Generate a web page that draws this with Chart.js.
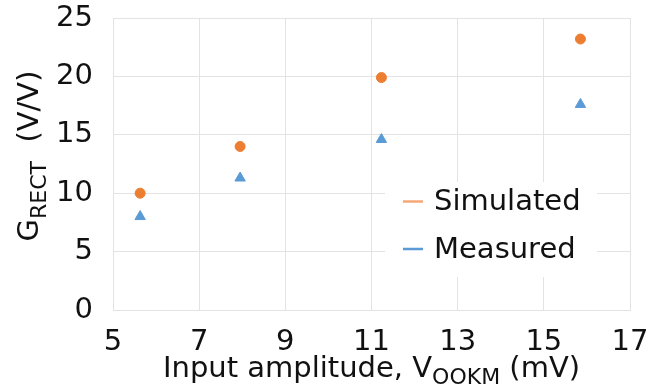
<!DOCTYPE html>
<html>
<head>
<meta charset="utf-8">
<script src="https://cdn.jsdelivr.net/npm/chart.js@4"></script>
<style>
  body { margin: 0; background: #fff; }
  canvas { display: block; }
</style>
</head>
<body>
<canvas id="graph" width="672" height="385"></canvas>
<script>
// input amplitude (mV)
const amplitude = [5.63, 7.95, 11.23, 15.85];
const simulated = [10.0, 14.0, 19.9, 23.2];
const measured = [8.0, 11.3, 14.6, 17.6];
const xTicks = [5, 7, 9, 11, 13, 15, 17];
const yTicks = [0, 5, 10, 15, 20, 25];

const FONT = "'DejaVu Sans', Verdana, sans-serif";
const orange = '#ed7d31';
const blue = '#5b9bd5';

const toPoints = (xs, ys) => xs.map((x, i) => ({x: x, y: ys[i]}));

// axis titles with subscripts + legend inside the plot
const decor = {
  id: 'decor',
  afterDraw(chart) {
    const ctx = chart.ctx;
    const a = chart.chartArea;
    ctx.save();
    ctx.fillStyle = '#111';
    ctx.textBaseline = 'alphabetic';

    // x title: Input amplitude, V_OOKM (mV)
    const big = '29px ' + FONT, small = '22px ' + FONT;
    const parts = [['Input amplitude, V', big, 0], ['OOKM', small, 7], [' (mV)', big, 0]];
    let w = 0;
    parts.forEach(p => { ctx.font = p[1]; w += ctx.measureText(p[0]).width; });
    let x = (a.left + a.right) / 2 - w / 2;
    parts.forEach(p => {
      ctx.font = p[1];
      ctx.fillText(p[0], x, 377 + p[2]);
      x += ctx.measureText(p[0]).width;
    });

    // y title: G_RECT  (V/V)
    const yparts = [['G', big, 0], ['RECT', small, 8], ['  (V/V)', big, 0]];
    w = 0;
    yparts.forEach(p => { ctx.font = p[1]; w += ctx.measureText(p[0]).width; });
    ctx.translate(38, 156);
    ctx.rotate(-Math.PI / 2);
    x = -w / 2;
    yparts.forEach(p => {
      ctx.font = p[1];
      ctx.fillText(p[0], x, p[2]);
      x += ctx.measureText(p[0]).width;
    });
    ctx.setTransform(1, 0, 0, 1, 0, 0);

    // legend box
    ctx.fillStyle = '#fff';
    ctx.fillRect(385, 182, 212, 95);
    ctx.font = big;
    ctx.textBaseline = 'middle';
    chart.data.datasets.forEach((ds, i) => {
      const ly = 201.5 + i * 47.5;
      ctx.strokeStyle = ds.legendColor;
      ctx.lineWidth = 2.5;
      ctx.beginPath();
      ctx.moveTo(403, ly);
      ctx.lineTo(423, ly);
      ctx.stroke();
      ctx.fillStyle = '#111';
      ctx.fillText(ds.label, 434, ly + 1);
    });
    ctx.restore();
  }
};

new Chart(document.getElementById('graph'), {
  type: 'scatter',
  data: {
    datasets: [
      {
        label: 'Simulated',
        data: toPoints(amplitude, simulated),
        pointStyle: 'circle',
        pointRadius: 5,
        backgroundColor: orange,
        borderColor: orange,
        legendColor: '#f4a877'
      },
      {
        label: 'Measured',
        data: toPoints(amplitude, measured),
        pointStyle: 'triangle',
        pointRadius: 6,
        backgroundColor: blue,
        borderColor: blue,
        legendColor: blue
      }
    ]
  },
  options: {
    responsive: false,
    animation: false,
    devicePixelRatio: 1,
    layout: { padding: { left: 0, right: 42, top: 18, bottom: 0 } },
    plugins: { legend: { display: false }, tooltip: { enabled: false } },
    scales: {
      x: {
        type: 'linear',
        min: xTicks[0],
        max: xTicks[xTicks.length - 1],
        afterBuildTicks: s => { s.ticks = xTicks.map(v => ({value: v})); },
        afterFit: s => { s.height = 75; s.paddingLeft = 0; s.paddingRight = 0; },
        ticks: { font: { family: FONT, size: 29 }, color: '#111', padding: 15, maxRotation: 0 },
        grid: { color: '#e3e3e3', drawTicks: false },
        border: { color: '#e3e3e3' }
      },
      y: {
        min: yTicks[0],
        max: yTicks[yTicks.length - 1],
        afterBuildTicks: s => { s.ticks = yTicks.map(v => ({value: v})); },
        afterFit: s => { s.width = 113; s.paddingTop = 0; s.paddingBottom = 0; },
        ticks: { font: { family: FONT, size: 29 }, color: '#111', padding: 20 },
        grid: { color: '#e3e3e3', drawTicks: false },
        border: { color: '#e3e3e3' }
      }
    }
  },
  plugins: [decor]
});
</script>
</body>
</html>
